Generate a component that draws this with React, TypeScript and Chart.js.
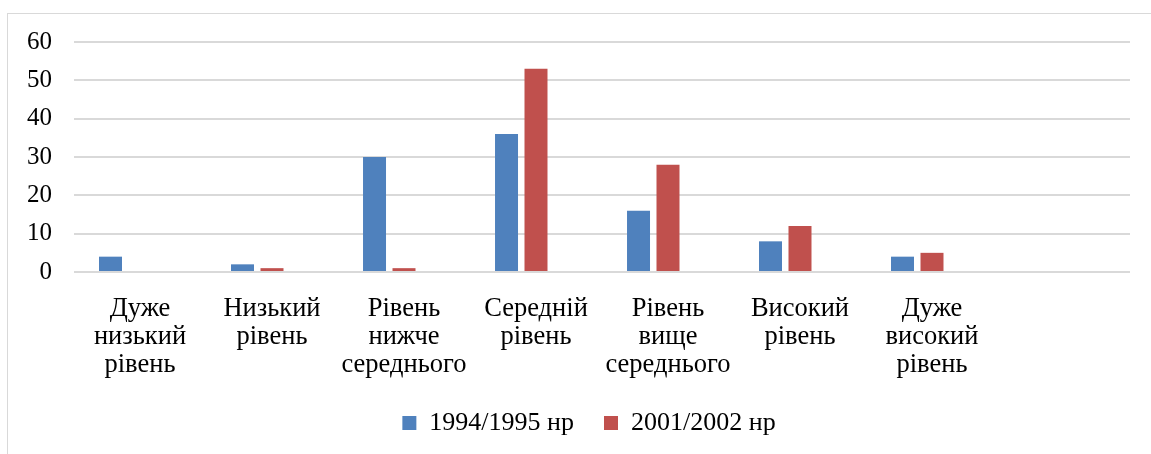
import React, { useEffect, useRef } from "react";
import { Chart, registerables } from "chart.js";

Chart.register(...registerables);

const categories: (string | string[])[] = [
  ["Дуже", "низький", "рівень"],
  ["Низький", "рівень"],
  ["Рівень", "нижче", "середнього"],
  ["Середній", "рівень"],
  ["Рівень", "вище", "середнього"],
  ["Високий", "рівень"],
  ["Дуже", "високий", "рівень"],
  "",
];
const series1Label = "1994/1995 нр";
const series2Label = "2001/2002 нр";
const series1 = [4, 2, 30, 36, 16, 8, 4, null];
const series2 = [0, 1, 1, 53, 28, 12, 5, null];
const series3 = [null, null, null, null, null, null, null, null];
const yMin = 0;
const yMax = 60;
const yStep = 10;

const FONT = '"Liberation Serif", "Times New Roman", serif';

export default function App() {
  const ref = useRef<HTMLCanvasElement | null>(null);

  useEffect(() => {
    if (!ref.current) return;
    const chart = new Chart(ref.current, {
      type: "bar",
      data: {
        labels: categories,
        datasets: [
          {
            label: series1Label,
            data: series1,
            backgroundColor: "#4F81BD",
            borderWidth: 0,
            categoryPercentage: 0.67,
            barPercentage: 0.78,
          },
          {
            label: series2Label,
            data: series2,
            backgroundColor: "#C0504D",
            borderWidth: 0,
            categoryPercentage: 0.67,
            barPercentage: 0.78,
          },
          {
            label: "",
            data: series3,
            backgroundColor: "rgba(0,0,0,0)",
            borderWidth: 0,
            categoryPercentage: 0.67,
            barPercentage: 0.78,
          },
        ],
      },
      options: {
        responsive: false,
        animation: false,
        layout: { padding: { left: 27, right: 0, top: 42, bottom: 8 } },
        plugins: {
          tooltip: { enabled: false },
          legend: {
            position: "bottom",
            labels: {
              filter: (item: any) => item.datasetIndex < 2,
              boxWidth: 14,
              boxHeight: 14,
              padding: 30,
              color: "#000",
              font: { family: FONT, size: 26 },
            },
          },
        },
        scales: {
          x: {
            grid: { display: false, drawTicks: false },
            border: { display: false },
            ticks: {
              color: "#000",
              padding: 23,
              maxRotation: 0,
              autoSkip: false,
              font: { family: FONT, size: 26.5, lineHeight: 1.05 },
            },
            afterFit: (scale: any) => {
              scale.height = 108;
            },
          },
          y: {
            min: yMin,
            max: yMax,
            grid: { color: "#D9D9D9", lineWidth: 2, drawTicks: false },
            border: { display: false },
            ticks: {
              stepSize: yStep,
              color: "#000",
              padding: 22,
              font: { family: FONT, size: 25 },
            },
            afterFit: (scale: any) => {
              scale.width = 47;
            },
          },
          yRight: {
            position: "right",
            display: true,
            grid: { display: false, drawTicks: false },
            border: { display: false },
            ticks: { display: false },
            afterFit: (scale: any) => {
              scale.width = 21;
            },
          },
        },
      },
    });
    return () => chart.destroy();
  }, []);

  return (
    <div
      style={{
        position: "fixed",
        left: 0,
        top: 0,
        width: 1151,
        height: 454,
        background: "#fff",
        overflow: "hidden",
      }}
    >
      <div
        style={{
          position: "absolute",
          left: 7,
          top: 13,
          width: 2000,
          height: 1000,
          borderTop: "1px solid #D9D9D9",
          borderLeft: "1px solid #D9D9D9",
        }}
      />
      <canvas
        ref={ref}
        width={1151}
        height={454}
        style={{ position: "absolute", left: 0, top: 0, width: 1151, height: 454 }}
      />
    </div>
  );
}
